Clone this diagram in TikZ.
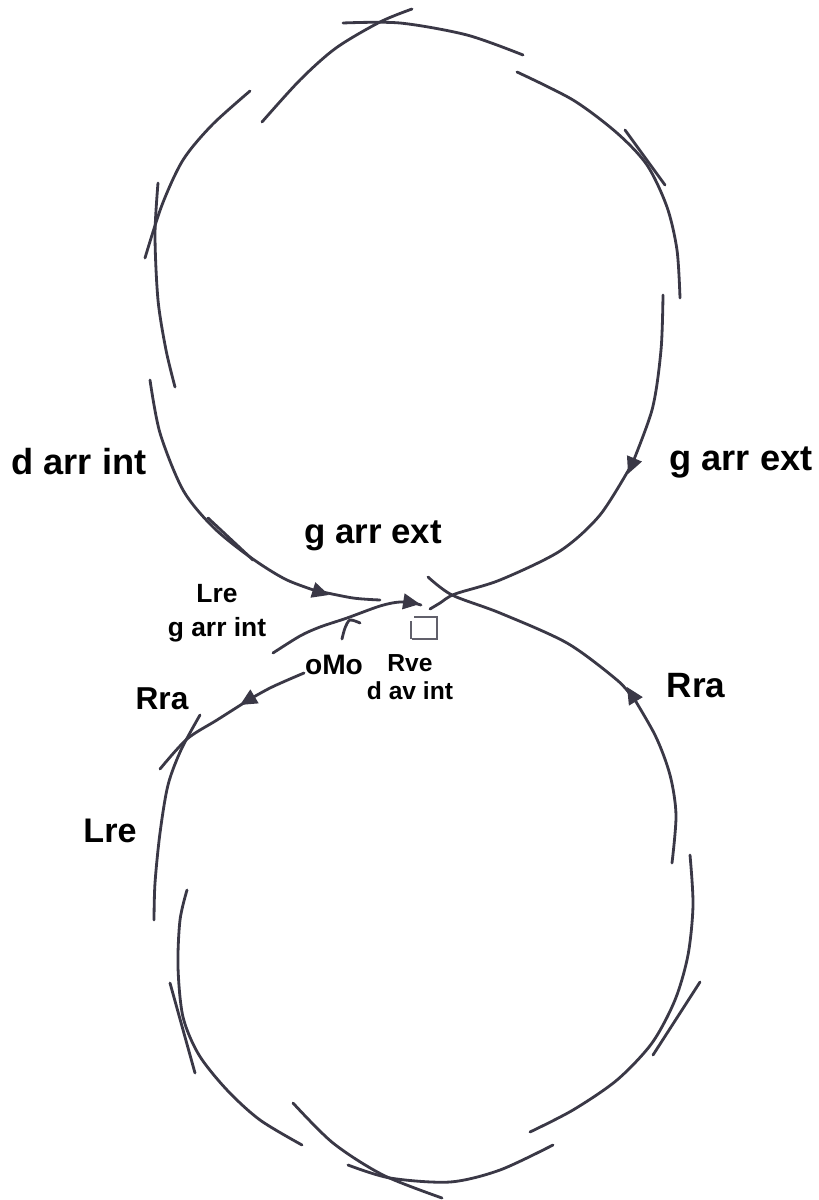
\documentclass[tikz,border=0pt]{standalone}
\usepackage{fontspec}
\setmainfont{Liberation Sans}
\usetikzlibrary{arrows.meta}
\definecolor{ink}{RGB}{58,56,70}
\tikzset{
  stroke/.style={draw=ink, line width=0.8pt, line cap=round},
  arrowstroke/.style={stroke, -{Triangle[length=4.8pt,width=4.4pt]}},
  lbl/.style={inner sep=0pt, text=black, font=\bfseries\fontsize{#1}{#1}\selectfont},
  lbltwo/.style 2 args={inner sep=0pt, text=black, align=center, font=\bfseries\fontsize{#1}{#2}\selectfont},
  sq/.style={draw=ink!80, line width=0.6pt}
}
\begin{document}
\begin{tikzpicture}[x=0.01cm,y=-0.01cm]
\useasboundingbox (0,0) rectangle (819,1200);
% ---------------- top loop ----------------
\draw[stroke] plot[smooth] coordinates {(343,23) (400,23) (467,35) (523,55)};
\draw[stroke] plot[smooth] coordinates {(262,122) (300,80) (336,48) (380,22) (412,9)};
\draw[stroke] plot[smooth] coordinates {(517,72) (573,100) (617,133) (647,165) (667,207) (677,250) (680,298)};
\draw[stroke] (625,130) -- (665,185);
\draw[arrowstroke] plot[smooth] coordinates {(663,295) (661,350) (652,410) (628,474)};
\draw[stroke] plot[smooth] coordinates {(632,464) (600,515) (560,551) (500,580) (455,594) (440,603) (430,609)};
\draw[stroke] plot[smooth] coordinates {(250,91) (212,125) (183,160) (162,205) (145,258)};
\draw[stroke] plot[smooth] coordinates {(158,183) (155,235) (158,300) (166,350) (175,387)};
\draw[arrowstroke] plot[smooth] coordinates {(150,380) (160,433) (183,490) (213,527) (250,557) (287,580) (329,595)};
\draw[stroke] plot[smooth] coordinates {(318,591) (353,598) (380,600)};
\draw[stroke] (208,518) -- (253,560);
% ---------------- centre ----------------
\draw[arrowstroke] plot[smooth] coordinates {(273,653) (300,636) (320,627) (347,618) (380,606) (400,602) (420,604)};
\draw[stroke] (414,603) -- (421,605);
\draw[stroke] plot[smooth] coordinates {(342,639) (345,628) (350,620) (360,623)};
\draw[sq] (414,617) -- (437,617) -- (437,639) -- (412,639);
\draw[sq] (411,621) -- (411,639);
% ---------------- bottom loop ----------------
\draw[arrowstroke] plot[smooth] coordinates {(672,863) (676,815) (670,775) (655,735) (627,687)};
\draw[stroke] plot[smooth] coordinates {(632,697) (617,680) (567,643) (500,613) (452,595) (428,577)};
\draw[stroke] plot[smooth] coordinates {(690,855) (693,905) (688,955) (675,1000) (652,1043) (617,1080) (573,1110) (530,1132)};
\draw[stroke] (700,982) -- (653,1055);
\draw[stroke] plot[smooth] coordinates {(553,1145) (500,1170) (450,1182) (390,1178) (348,1165)};
\draw[stroke] plot[smooth] coordinates {(293,1103) (333,1143) (383,1175) (442,1198)};
\draw[stroke] plot[smooth] coordinates {(187,890) (180,920) (178,967) (183,1017) (199,1055) (227,1090) (260,1120) (302,1145)};
\draw[stroke] (170,983) -- (195,1073);
\draw[stroke] plot[smooth] coordinates {(200,715) (181,750) (168,785) (160,833) (155,883) (154,920)};
\draw[arrowstroke] plot[smooth] coordinates {(304,673) (270,688) (240,705)};
\draw[stroke] plot[smooth] coordinates {(250,699) (217,720) (187,739) (160,769)};
% ---------------- labels ----------------
\node[lbl=10.3] (dai) at (79,462) {d arr int};
\node[lbl=10.3] (gaeR) at (741,463) {g arr ext};
\node[lbl=9.9] (gaeM) at (373,536) {g arr ext};
\node[lbltwo={7.5}{9.7}] (lregai) at (217,613) {Lre\\g arr int};
\node[lbl=8] (omo) at (334,665) {oMo};
\node[lbltwo={7}{8}] (rve) at (410,677) {Rve\\d av int};
\node[lbl=10] (rraR) at (696,686) {Rra};
\node[lbl=9] (rraL) at (162,699) {Rra};
\node[lbl=9.7] (lreL) at (110,831) {Lre};
\end{tikzpicture}
\end{document}
